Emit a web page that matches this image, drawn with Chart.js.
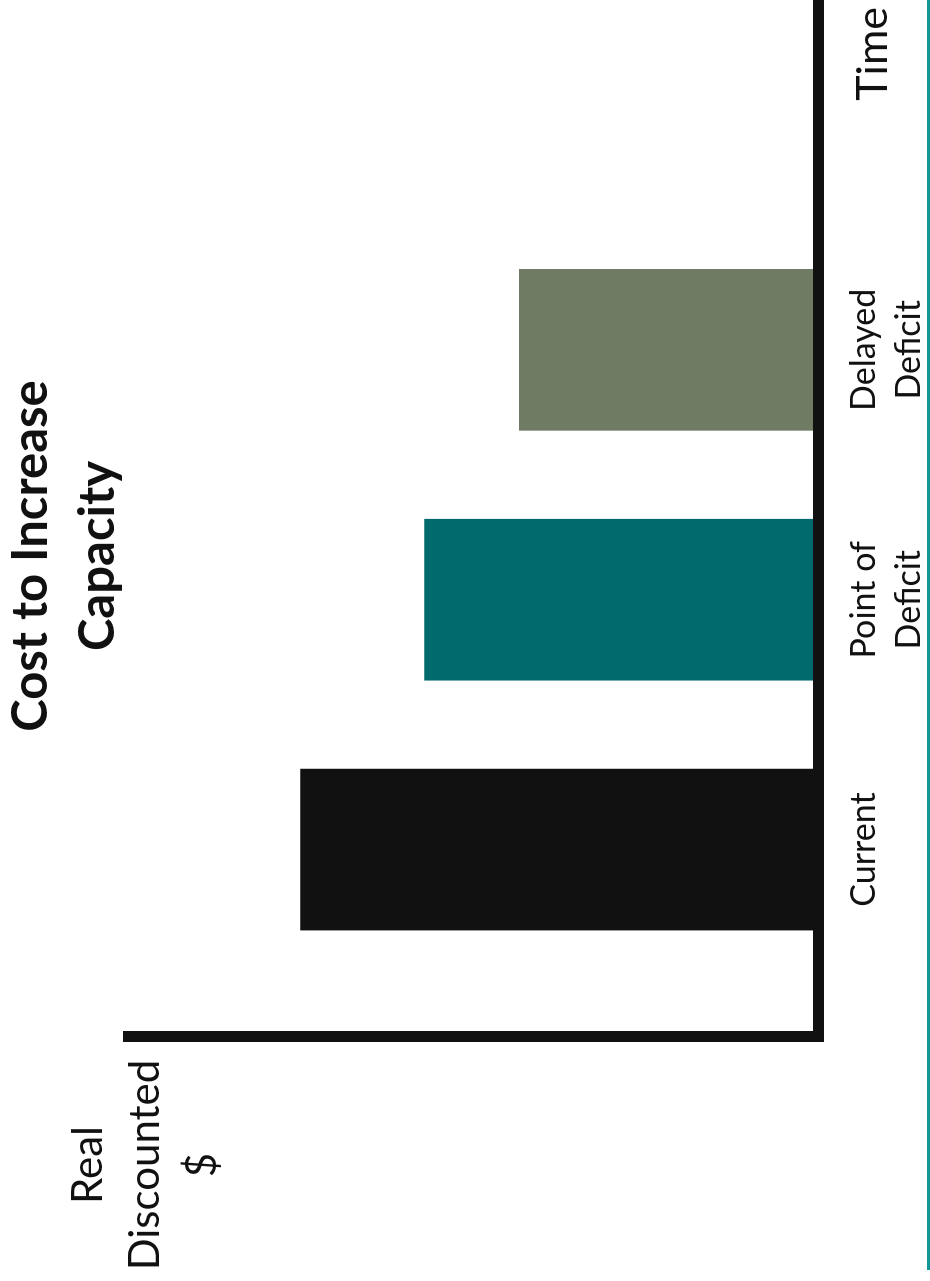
<!DOCTYPE html>
<html>
<head>
<meta charset="utf-8">
<title>Cost to Increase Capacity</title>
<script src="https://cdn.jsdelivr.net/npm/chart.js@4"></script>
<style>
  html, body { margin: 0; padding: 0; background: #fff; overflow: hidden; }
  body { width: 930px; height: 1281px; position: relative; }
  /* the slide is landscape, shown turned a quarter to the left */
  #slide {
    position: absolute; left: 0; top: 0;
    width: 1281px; height: 930px;
    transform-origin: 0 0;
    transform: translateY(1281px) rotate(-90deg);
    font-family: Lato, "Open Sans", sans-serif;
    color: #111;
  }
  #slide canvas { position: absolute; left: 0; top: 0; }
  .txt { position: absolute; white-space: nowrap; }
  #title { left: 425px; width: 600px; top: -5px; text-align: center; font-weight: bold; font-size: 49px; line-height: 67px; }
  #ylabel { left: -34px; width: 300px; top: 58px; text-align: center; font-size: 42px; line-height: 57px; }
  #time { left: 1074px; width: 200px; top: 845px; text-align: right; font-size: 43px; line-height: 52px; }
  #rule { position: absolute; left: 11px; top: 927px; width: 1270px; height: 3px; background: #12969a; }
</style>
</head>
<body>
<div id="slide">
  <canvas id="chart" width="1281" height="930"></canvas>
  <div class="txt" id="title">Cost to Increase<br>Capacity</div>
  <div class="txt" id="ylabel">Real<br>Discounted<br>$</div>
  <div class="txt" id="time">Time</div>
  <div id="rule"></div>
</div>

<script>
// Chart data
const categories = ['Current', ['Point of', 'Deficit'], ['Delayed', 'Deficit']];
const costs = [75, 57, 43.3];
const barColors = ['#111111', '#006a6d', '#6f7b63'];

// bars sit at 1, 2, 3 on a linear axis so the spacing can match the slide
const points = costs.map((v, i) => ({ x: i + 1, y: v }));

const axisColor = '#111111';

new Chart(document.getElementById('chart'), {
    type: 'bar',
    data: {
        datasets: [{
            data: points,
            backgroundColor: barColors,
            borderWidth: 0,
            barThickness: 161
        }]
    },
    options: {
        responsive: false,
        devicePixelRatio: 1,
        animation: false,
        layout: { padding: { left: 244, top: 128, right: 0, bottom: 0 } },
        plugins: {
            legend: { display: false },
            tooltip: { enabled: false }
        },
        scales: {
            x: {
                type: 'linear',
                offset: false,
                min: 0.25,
                max: 4.4,
                grid: { display: false, drawTicks: false },
                border: { display: true, color: axisColor, width: 11, z: 1 },
                afterBuildTicks: scale => {
                    scale.ticks = categories.map((c, i) => ({ value: i + 1 }));
                },
                afterFit: scale => { scale.height = 112; },
                ticks: {
                    autoSkip: false,
                    maxRotation: 0,
                    padding: 23,
                    color: '#111',
                    font: { family: 'Lato', size: 34, lineHeight: 1.33 },
                    callback: (value, index) => categories[index]
                }
            },
            y: {
                min: 0,
                max: 100,
                grid: { display: false, drawTicks: false },
                border: { display: true, color: axisColor, width: 11, z: 1 },
                ticks: { display: false },
                afterFit: scale => { scale.width = 0; }
            }
        }
    }
});
</script>
</body>
</html>
